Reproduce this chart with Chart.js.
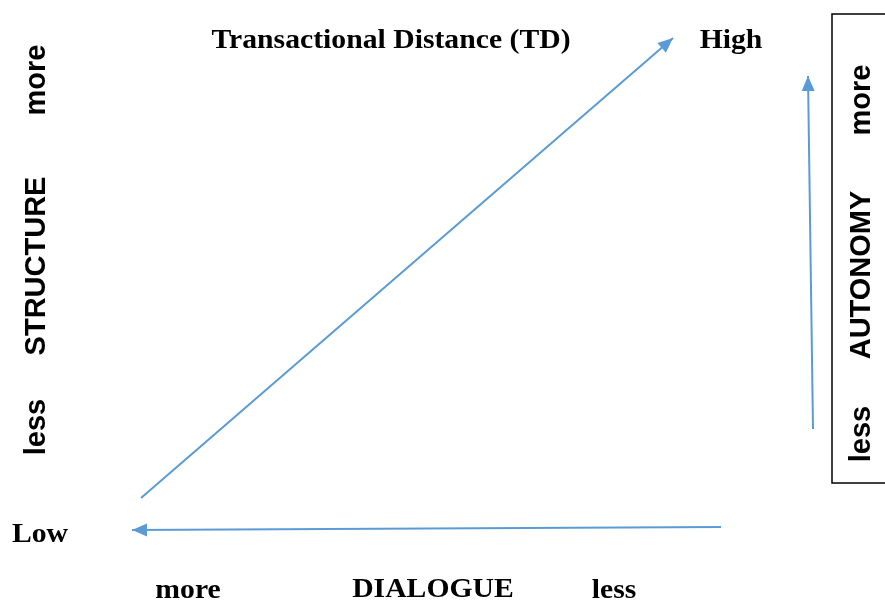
<!DOCTYPE html>
<html>
<head>
<meta charset="utf-8">
<script src="https://cdn.jsdelivr.net/npm/chart.js@4"></script>
<style>
html, body { margin: 0; padding: 0; background: #fff; }
#wrap { width: 885px; height: 601px; }
</style>
</head>
<body>
<div id="wrap"><canvas id="tdChart" width="885" height="601"></canvas></div>
<script>
// arrows of the diagram, in drawing units (x to the right, y downwards)
const tdArrow = [{ x: 141, y: 498 }, { x: 673, y: 38 }];
const dialogueArrow = [{ x: 721, y: 527 }, { x: 132, y: 530 }];
const autonomyArrow = [{ x: 813, y: 429 }, { x: 808, y: 76 }];

// texts
const serifLabels = ['Transactional Distance (TD)', 'High', 'Low', 'more', 'DIALOGUE', 'less'];
const structureLabels = ['more', 'STRUCTURE', 'less'];
const autonomyLabels = ['more', 'AUTONOMY', 'less'];

// where the texts sit (drawing units)
const serifPos = [[391, 41], [731, 41], [40, 535], [188, 591], [433, 590], [614, 591]];
const structurePos = [[37, 80], [37, 266], [37, 427]];
const autonomyPos = [[862, 100], [862, 275], [862, 434]];

const arrowBlue = '#5B9BD5';

// arrow heads, box and the texts
const diagramPlugin = {
    id: 'diagram',
    afterDatasetsDraw(chart) {
        const ctx = chart.ctx;
        const xs = chart.scales.x;
        const ys = chart.scales.y;

        chart.data.datasets.forEach((ds, i) => {
            const pts = chart.getDatasetMeta(i).data;
            const a = pts[pts.length - 2];
            const b = pts[pts.length - 1];
            const ang = Math.atan2(b.y - a.y, b.x - a.x);
            const len = 15, half = 6.5;
            ctx.save();
            ctx.translate(b.x, b.y);
            ctx.rotate(ang);
            ctx.beginPath();
            ctx.moveTo(0, 0);
            ctx.lineTo(-len, -half);
            ctx.lineTo(-len, half);
            ctx.closePath();
            ctx.fillStyle = arrowBlue;
            ctx.fill();
            ctx.restore();
        });

        // box around the autonomy scale
        ctx.save();
        ctx.strokeStyle = '#000';
        ctx.lineWidth = 1.5;
        const bx = xs.getPixelForValue(832);
        const by = ys.getPixelForValue(14);
        ctx.strokeRect(bx, by, xs.getPixelForValue(900) - bx, ys.getPixelForValue(483) - by);
        ctx.restore();

        ctx.fillStyle = '#000';
        ctx.textAlign = 'center';
        ctx.textBaseline = 'middle';

        serifLabels.forEach((t, i) => {
            ctx.save();
            ctx.translate(xs.getPixelForValue(serifPos[i][0]), ys.getPixelForValue(serifPos[i][1]));
            ctx.scale(1.1, 1);
            ctx.font = 'bold 27px "Liberation Serif", "Times New Roman", serif';
            ctx.fillText(t, 0, 0);
            ctx.restore();
        });

        const vertical = (labels, pos) => {
            labels.forEach((t, i) => {
                ctx.save();
                ctx.translate(xs.getPixelForValue(pos[i][0]), ys.getPixelForValue(pos[i][1]));
                ctx.rotate(-Math.PI / 2);
                ctx.font = 'bold 29px "Liberation Sans", Arial, sans-serif';
                ctx.fillText(t, 0, 0);
                ctx.restore();
            });
        };
        vertical(structureLabels, structurePos);
        vertical(autonomyLabels, autonomyPos);
    }
};

const lineStyle = {
    showLine: true,
    borderColor: arrowBlue,
    borderWidth: 2,
    pointRadius: 0,
    fill: false
};

new Chart(document.getElementById('tdChart'), {
    type: 'scatter',
    data: {
        datasets: [
            Object.assign({ label: 'Transactional Distance', data: tdArrow }, lineStyle),
            Object.assign({ label: 'Dialogue', data: dialogueArrow }, lineStyle),
            Object.assign({ label: 'Autonomy', data: autonomyArrow }, lineStyle)
        ]
    },
    options: {
        responsive: false,
        animation: false,
        layout: { padding: 0 },
        plugins: {
            legend: { display: false },
            tooltip: { enabled: false }
        },
        scales: {
            x: { type: 'linear', min: 0, max: 885, display: false },
            y: { type: 'linear', min: 0, max: 601, reverse: true, display: false }
        }
    },
    plugins: [diagramPlugin]
});
</script>
</body>
</html>
